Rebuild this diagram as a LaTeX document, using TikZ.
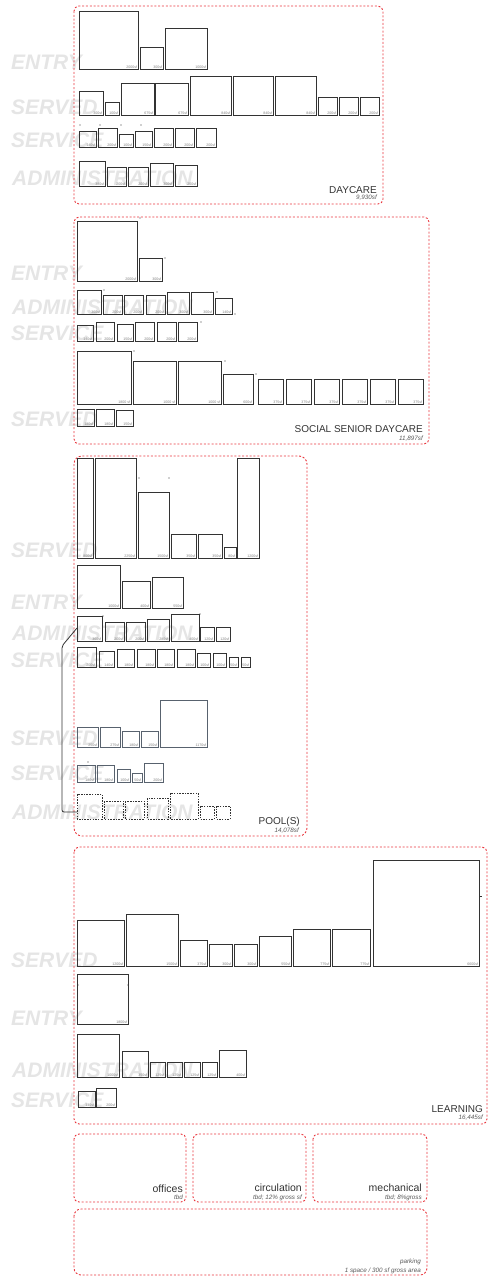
\documentclass[tikz,border=0pt]{standalone}
\usepackage{fontspec}
\setmainfont{Liberation Sans}
\definecolor{zred}{RGB}{233,55,62}
\definecolor{slate}{RGB}{88,98,110}
\newcommand\rb[6][room]{\draw[#1] (#2,#3) rectangle (#4,#5); \node[rlab] at (#4,#5) {#6};}
\newcommand\ghostlbl[3][11]{\node[ghost] at (#1,#2) {#3};}
\newcommand\tick[2]{\fill[black!80] (#1,#2) circle (0.6);}
\begin{document}
\begin{tikzpicture}[x=1pt,y=-1pt,
 zone/.style={draw=zred,line width=0.9pt,dash pattern=on 2pt off 1.8pt,rounded corners=5pt},
 room/.style={draw=black!80,line width=0.85pt},
 sroom/.style={draw=slate,line width=0.85pt},
 droom/.style={draw=black!80,line width=0.7pt,dash pattern=on 1.5pt off 1.2pt},
 rlab/.style={font=\fontsize{3.6}{3.6}\selectfont,text=black!50,inner sep=0.7pt,anchor=south east},
 ghost/.style={font=\fontsize{21}{21}\selectfont\bfseries\itshape,text=black!10,inner sep=0pt,anchor=west},
 ztitle/.style={font=\fontsize{10}{10}\selectfont,text=black!80,inner sep=0pt,anchor=base east},
 zsub/.style={font=\fontsize{6.3}{6.3}\selectfont\itshape,text=black!65,inner sep=0pt,anchor=base east},
]
\useasboundingbox (0,0) rectangle (488,1277);
% ghost labels
\ghostlbl{62}{ENTRY}
\ghostlbl{107}{SERVED}
\ghostlbl{140}{SERVICE}
\ghostlbl[12]{178}{ADMINISTRATION}
\ghostlbl{273}{ENTRY}
\ghostlbl[12]{307}{ADMINISTRATION}
\ghostlbl{333}{SERVICE}
\ghostlbl{419}{SERVED}
\ghostlbl{550}{SERVED}
\ghostlbl{602}{ENTRY}
\ghostlbl[12]{633}{ADMINISTRATION}
\ghostlbl{660}{SERVICE}
\ghostlbl{738}{SERVED}
\ghostlbl{773}{SERVICE}
\ghostlbl[12]{812}{ADMINISTRATION}
\ghostlbl{960}{SERVED}
\ghostlbl{1018}{ENTRY}
\ghostlbl[12]{1070}{ADMINISTRATION}
\ghostlbl{1100}{SERVICE}

% ================= DAYCARE
\draw[zone] (74,6) rectangle (383,204);
\rb{79}{11}{138}{69}{2000sf}
\rb{140}{47}{163}{69}{300sf}
\rb{165}{28}{207}{69}{1000sf}
\rb{79}{91}{103}{115}{300sf}
\rb{105}{102}{119}{115}{100sf}
\rb{121}{83}{154}{115}{675sf}
\rb{155}{83}{188}{115}{675sf}
\rb{190}{76}{231}{115}{840sf}
\rb{233}{76}{273}{115}{840sf}
\rb{275}{76}{316}{115}{840sf}
\rb{318}{97}{337}{115}{200sf}
\rb{339}{97}{358}{115}{200sf}
\rb{360}{97}{379}{115}{200sf}
\rb{79}{131}{96}{147}{140sf}
\rb{98}{128}{117}{147}{200sf}
\rb{119}{134}{133}{147}{100sf}
\rb{135}{131}{152}{147}{150sf}
\rb{154}{128}{173}{147}{200sf}
\rb{175}{128}{194}{147}{200sf}
\rb{196}{128}{216}{147}{200sf}
\tick{80}{125}\tick{100}{125}\tick{121}{125}\tick{141}{125}
\rb{79}{161}{105}{186}{380sf}
\rb{107}{167}{126}{186}{200sf}
\rb{128}{167}{148}{186}{200sf}
\rb{150}{163}{173}{186}{300sf}
\rb{175}{165}{197}{186}{250sf}
\node[ztitle] (t1) at (377,193) {DAYCARE};
\node[zsub] (s1) at (377,199.5) {9,930sf};

% ================= SOCIAL SENIOR DAYCARE
\draw[zone] (74,217) rectangle (429,444);
\rb{77}{221}{137}{281}{2000sf}
\rb{139}{258}{162}{281}{300sf}
\tick{140}{218}\tick{165}{258}
\rb{77}{290}{101}{314}{360sf}
\rb{103}{295}{122}{314}{200sf}
\rb{124}{295}{143}{314}{200sf}
\rb{146}{295}{165}{314}{200sf}
\rb{167}{292}{189}{314}{300sf}
\rb{191}{292}{213}{314}{300sf}
\rb{215}{298}{232}{314}{140sf}
\tick{104}{290}\tick{217}{292}\tick{235}{314}
\rb{77}{325}{93}{341}{140sf}
\rb{96}{322}{114}{341}{200sf}
\rb{117}{324}{133}{341}{150sf}
\rb{135}{322}{154}{341}{200sf}
\rb{157}{322}{176}{341}{200sf}
\rb{178}{322}{197}{341}{200sf}
\tick{201}{322}
\rb{77}{351}{131}{404}{1800 sf}
\rb{133}{361}{176}{404}{1000 sf}
\rb{178}{361}{221}{404}{1000 sf}
\rb{223}{374}{253}{404}{600sf}
\tick{134}{351}\tick{225}{361}\tick{256}{374}
\rb{258}{379}{283}{404}{375sf}
\rb{286}{379}{311}{404}{375sf}
\rb{314}{379}{339}{404}{375sf}
\rb{342}{379}{367}{404}{375sf}
\rb{370}{379}{395}{404}{375sf}
\rb{398}{379}{423}{404}{375sf}
\rb{77}{409}{94}{426}{180sf}
\rb{96}{409}{114}{426}{180sf}
\rb{116}{410}{133}{426}{150sf}
\node[ztitle] (t2) at (423,432) {SOCIAL SENIOR DAYCARE};
\node[zsub] (s2) at (423,440) {11,897sf};

% ================= POOL(S)
\draw[zone,rounded corners=8pt] (74,456) rectangle (307,836);
\rb{77}{458}{93}{558}{800sf}
\rb{95}{458}{136}{558}{2250sf}
\rb{138}{492}{169}{558}{1500sf}
\rb{171}{534}{196}{558}{350sf}
\rb{198}{534}{222}{558}{350sf}
\rb{224}{547}{236}{558}{80sf}
\rb{237}{458}{259}{558}{1200sf}
\tick{139}{478}\tick{169}{478}
\rb{77}{565}{120}{608}{1000sf}
\rb{122}{581}{150}{608}{400sf}
\rb{152}{577}{183}{608}{550sf}
\rb{77}{616}{102}{641}{360sf}
\rb{105}{622}{124}{641}{200sf}
\rb{126}{622}{145}{641}{200sf}
\rb{147}{619}{169}{641}{280sf}
\rb{171}{614}{199}{641}{400sf}
\rb{200}{627}{214}{641}{120sf}
\rb{216}{627}{230}{641}{120sf}
\tick{103}{616}\tick{200}{614}
\rb{77}{647}{96}{667}{200sf}
\rb{99}{651}{114}{667}{140sf}
\rb{117}{649}{134}{667}{180sf}
\rb{137}{649}{155}{667}{180sf}
\rb{157}{649}{174}{667}{180sf}
\rb{177}{649}{195}{667}{180sf}
\rb{197}{653}{210}{667}{100sf}
\rb{213}{653}{226}{667}{100sf}
\rb{229}{657}{238}{667}{50sf}
\rb{241}{657}{250}{667}{50sf}
\rb[sroom]{77}{727}{98}{747}{250sf}
\rb[sroom]{100}{727}{120}{747}{275sf}
\rb[sroom]{122}{731}{139}{747}{180sf}
\rb[sroom]{141}{731}{158}{747}{150sf}
\rb[sroom]{160}{700}{207}{747}{1170sf}
\rb[sroom]{77}{765}{95}{782}{180sf}
\rb[sroom]{97}{765}{114}{782}{180sf}
\rb[sroom]{117}{769}{130}{782}{100sf}
\rb[sroom]{132}{773}{142}{782}{50sf}
\rb[sroom]{144}{763}{163}{782}{200sf}
\tick{88}{762}
\draw[droom] (77,794) rectangle (102,819);
\draw[droom] (104,801) rectangle (123,819);
\draw[droom] (125,801) rectangle (144,819);
\draw[droom] (147,798) rectangle (168,819);
\draw[droom] (170,793) rectangle (198,819);
\draw[droom] (200,806) rectangle (214,819);
\draw[droom] (216,806) rectangle (230,819);
\coordinate (b1) at (77,628);
\coordinate (b2) at (77,812);
\draw[black!80,line width=0.8pt,rounded corners=2pt] (b1) -- (62,646) -- (62,812) -- (b2);
\node[ztitle] (t3) at (300,824) {POOL(S)};
\node[zsub] (s3) at (299,832) {14,078sf};

% ================= LEARNING
\draw[zone] (74,847) rectangle (487,1124);
\rb{77}{920}{124}{966}{1200sf}
\rb{126}{914}{178}{966}{1500sf}
\rb{180}{940}{207}{966}{375sf}
\rb{209}{944}{232}{966}{300sf}
\rb{234}{944}{257}{966}{300sf}
\rb{259}{936}{291}{966}{550sf}
\rb{293}{929}{330}{966}{775sf}
\rb{332}{929}{370}{966}{775sf}
\rb{373}{860}{479}{966}{6600sf}
\draw[black!80,line width=0.6pt] (479,896) -- (482,896);
\rb{77}{974}{128}{1024}{1800sf}
\tick{78}{985}\tick{128}{985}
\rb{77}{1034}{119}{1077}{1000sf}
\rb{122}{1051}{148}{1077}{350sf}
\rb{150}{1062}{165}{1077}{125sf}
\rb{167}{1062}{182}{1077}{125sf}
\rb{184}{1062}{200}{1077}{125sf}
\rb{202}{1062}{217}{1077}{125sf}
\rb{219}{1050}{246}{1077}{400sf}
\rb{78}{1091}{95}{1107}{140sf}
\rb{96}{1088}{116}{1107}{200sf}
\node[ztitle] (t4) at (483,1112) {LEARNING};
\node[zsub] (s4) at (483,1119) {16,445sf};

% ================= bottom zones
\draw[zone] (74,1134) rectangle (186,1202);
\draw[zone] (193,1134) rectangle (306,1202);
\draw[zone] (313,1134) rectangle (427,1202);
\draw[zone,rounded corners=7pt] (74,1209) rectangle (427,1275);
\node[ztitle,font=\fontsize{10.5}{10.5}\selectfont] (t5) at (183,1192) {offices};
\node[zsub] (s5) at (183,1199) {tbd};
\node[ztitle,font=\fontsize{10.5}{10.5}\selectfont] (t6) at (302,1191) {circulation};
\node[zsub] (s6) at (302,1199) {tbd; 12\% gross sf};
\node[ztitle,font=\fontsize{10.5}{10.5}\selectfont] (t7) at (422,1191) {mechanical};
\node[zsub] (s7) at (422,1199) {tbd; 8\%gross};
\node[zsub] (s8) at (421,1263) {parking};
\node[zsub] (s9) at (421,1272) {1 space / 300 sf gross area};
\end{tikzpicture}
\end{document}
